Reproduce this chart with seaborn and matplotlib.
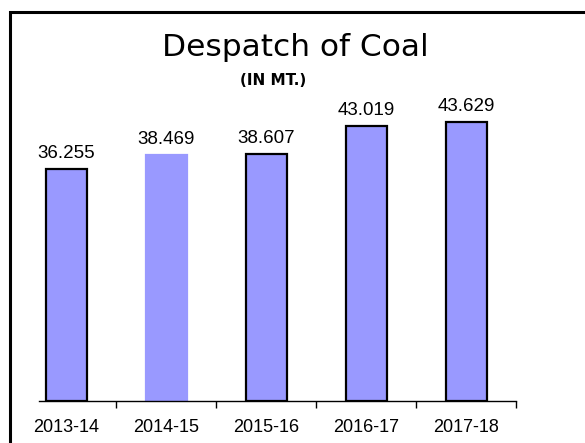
import matplotlib
matplotlib.use('Agg')
import matplotlib.pyplot as plt
import seaborn as sns
import pandas as pd
from matplotlib.patches import Rectangle

# data
years = ['2013-14', '2014-15', '2015-16', '2016-17', '2017-18']
despatch = [36.255, 38.469, 38.607, 43.019, 43.629]
outlined = [True, False, True, True, True]

df = pd.DataFrame({'year': years, 'despatch': despatch})

sns.set_style('white')
plt.rcParams['font.family'] = ['Liberation Sans', 'DejaVu Sans']
plt.rcParams['text.color'] = 'black'
plt.rcParams['xtick.color'] = 'black'

fig = plt.figure(figsize=(5.85, 4.43), dpi=100)
ax = fig.add_axes([39 / 585, 42 / 443, 477 / 585, 0.72])

sns.barplot(data=df, x='year', y='despatch', order=years, color='#9999ff',
            saturation=1, width=0.41, ax=ax)

for bar, edge in zip(ax.patches, outlined):
    bar.set_edgecolor('black' if edge else '#9999ff')
    bar.set_linewidth(1.6)

for i, v in enumerate(despatch):
    ax.annotate(f'{v:.3f}', (i, v), xytext=(0, 5), textcoords='offset points',
                ha='center', va='bottom', fontsize=13.5, color='black')

ax.set_xlim(-0.27, 4.5)
ax.set_ylim(0, 0.72 * 443 / 6.4)
ax.set_xlabel('')
ax.set_ylabel('')
ax.set_yticks([])
ax.set_xticks([0.5, 1.5, 2.5, 3.5, 4.5], minor=True)
ax.tick_params(axis='x', which='major', length=0, pad=13, labelsize=13,
               labelcolor='black')
ax.tick_params(axis='x', which='minor', length=5, width=1, color='black',
               direction='out', bottom=True)
for side in ['top', 'right', 'left']:
    ax.spines[side].set_visible(False)
ax.spines['bottom'].set_color('black')
ax.spines['bottom'].set_linewidth(1)

fig.text(295 / 585, 1 - 56 / 443, 'Despatch of Coal', ha='center', va='baseline',
         fontsize=22.5, family='DejaVu Sans', color='black')
fig.text(273 / 585, 1 - 85 / 443, '(IN MT.)', ha='center', va='baseline',
         fontsize=11, fontweight='bold', family='DejaVu Sans', color='black')

# thick frame around the chart (right and bottom run off the picture)
fig.patches.append(Rectangle((10 / 585, -0.1), 1.2, 1.1 - 12.5 / 443,
                             transform=fig.transFigure, fill=False,
                             edgecolor='black', linewidth=2.2, clip_on=False))

fig.savefig('out.png', dpi=100)
